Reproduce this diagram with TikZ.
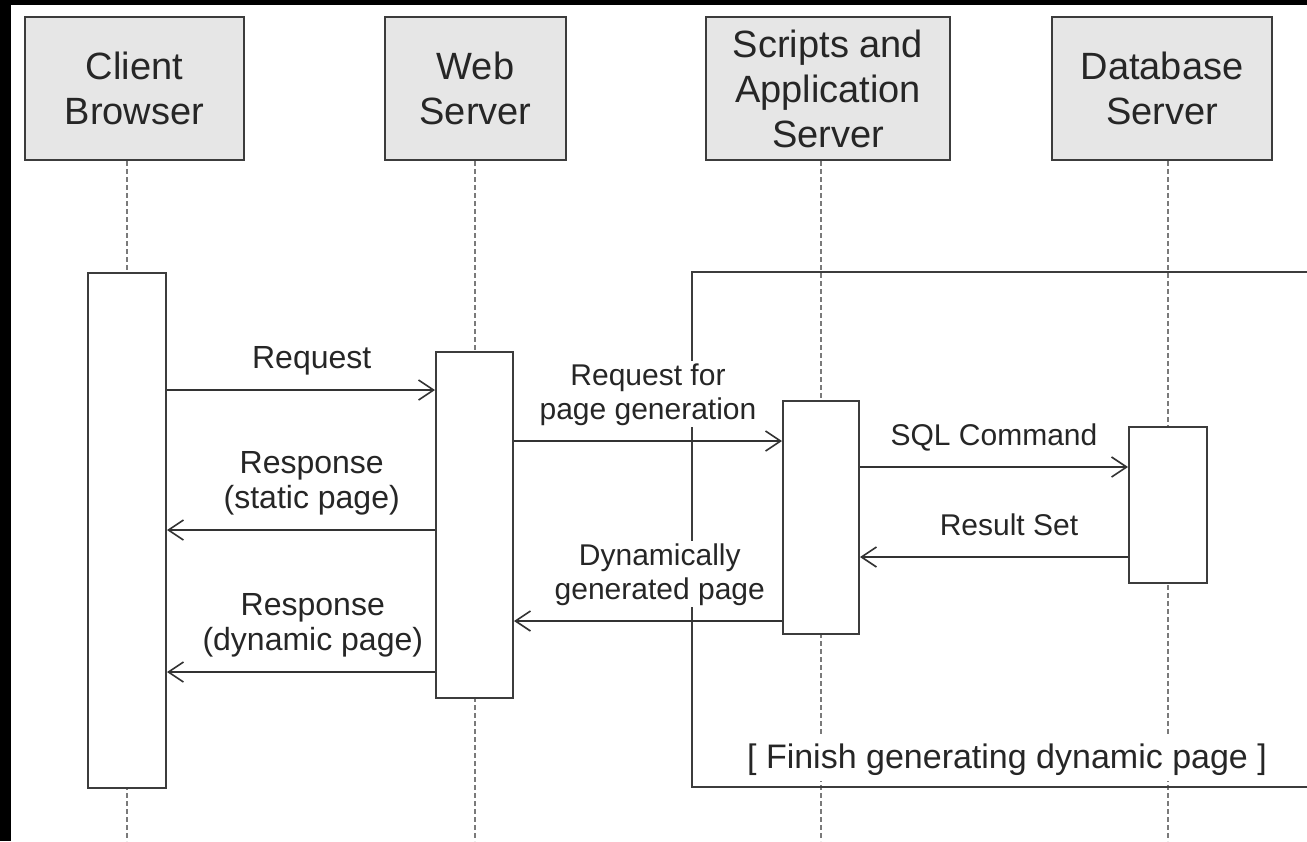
\documentclass[tikz,border=0pt]{standalone}
\usepackage{fontspec}
\setmainfont{Liberation Sans}
\usetikzlibrary{arrows.meta,positioning}
\definecolor{hdrgray}{HTML}{E6E6E6}
\definecolor{edgegray}{HTML}{3C3C3C}
\definecolor{lifegray}{HTML}{7A7A7A}

\begin{document}
\begin{tikzpicture}[x=1pt, y=-1pt,
  header/.style={rectangle, draw=edgegray, fill=hdrgray, line width=2pt,
    minimum height=143pt, align=center, text=black!85,
    font=\fontsize{38}{45}\selectfont},
  activation/.style={rectangle, draw=edgegray, fill=white, line width=2pt},
  lifeline/.style={draw=lifegray, line width=2pt, dash pattern=on 5pt off 3pt},
  msg/.style={color=black!80, line width=1.6pt,
    -{Straight Barb[length=15pt,width=20pt]}},
  lbl/.style={fill=white, inner sep=2pt, align=center, anchor=south,
    yshift=13pt, text depth=6pt, text=black!85,
    font=\fontsize{30}{34}\selectfont},
  lblwide/.style={lbl, font=\fontsize{32}{35}\selectfont},
  frag/.style={draw=edgegray, line width=2pt},
  guard/.style={fill=white, inner sep=6pt, anchor=base, text=black!85,
    font=\fontsize{34}{40}\selectfont}]
  \useasboundingbox (0,0) rectangle (1307,841);
  \clip (0,0) rectangle (1307,841);
  \fill[black] (0,0) rectangle (1307,841);
  \fill[white] (11,5) rectangle (1307,841);

  % participants
  \node[header, minimum width=219pt] (cb) at (134.5,88.5) {Client\\Browser};
  \node[header, minimum width=181pt] (ws) at (475.5,88.5) {Web\\Server};
  \node[header, minimum width=244pt] (as) at (828,88.5) {Scripts and\\Application\\Server};
  \node[header, minimum width=220pt] (db) at (1162,88.5) {Database\\Server};

  \coordinate (cbl) at (127,0);
  \coordinate (wsl) at (474.5,0);
  \coordinate (asl) at (821,0);
  \coordinate (dbl) at (1168,0);
  \coordinate (bot) at (0,841);

  % lifelines
  \draw[lifeline] (cbl |- cb.south) -- (cbl |- bot);
  \draw[lifeline] (wsl |- ws.south) -- (wsl |- bot);
  \draw[lifeline] (asl |- as.south) -- (asl |- bot);
  \draw[lifeline] (dbl |- db.south) -- (dbl |- bot);

  % fragment
  \draw[frag] (692,272) rectangle (1330,787);

  % activations
  \node[activation, minimum width=78pt, minimum height=515pt] (cba) at (127,530.5) {};
  \node[activation, minimum width=77pt, minimum height=346pt] (wsa) at (474.5,525) {};
  \node[activation, minimum width=76pt, minimum height=233pt] (asa) at (821,517.5) {};
  \node[activation, minimum width=78pt, minimum height=156pt] (dba) at (1168,505) {};

  \coordinate (m1) at (0,390);
  \coordinate (m2) at (0,441);
  \coordinate (m3) at (0,467);
  \coordinate (m4) at (0,530);
  \coordinate (m5) at (0,557);
  \coordinate (m6) at (0,621);
  \coordinate (m7) at (0,672);

  % messages
  \path[msg]
    (cba.east |- m1) edge node[lblwide, pos=0.54] {Request} (wsa.west |- m1)
    (wsa.east |- m2) edge node[lbl, pos=0.5] {Request for\\page generation} (asa.west |- m2)
    (asa.east |- m3) edge node[lbl, pos=0.5] {SQL Command} (dba.west |- m3)
    (wsa.west |- m4) edge node[lblwide, pos=0.46] {Response\\(static page)} (cba.east |- m4)
    (dba.west |- m5) edge node[lbl, pos=0.444] {Result Set} (asa.east |- m5)
    (asa.west |- m6) edge node[lbl, pos=0.456] {Dynamically\\generated page} (wsa.east |- m6)
    (wsa.west |- m7) edge node[lblwide, pos=0.456] {Response\\(dynamic page)} (cba.east |- m7);

  \node[guard] (fin) at (1007,768) {[ Finish generating dynamic page ]};
\end{tikzpicture}
\end{document}
